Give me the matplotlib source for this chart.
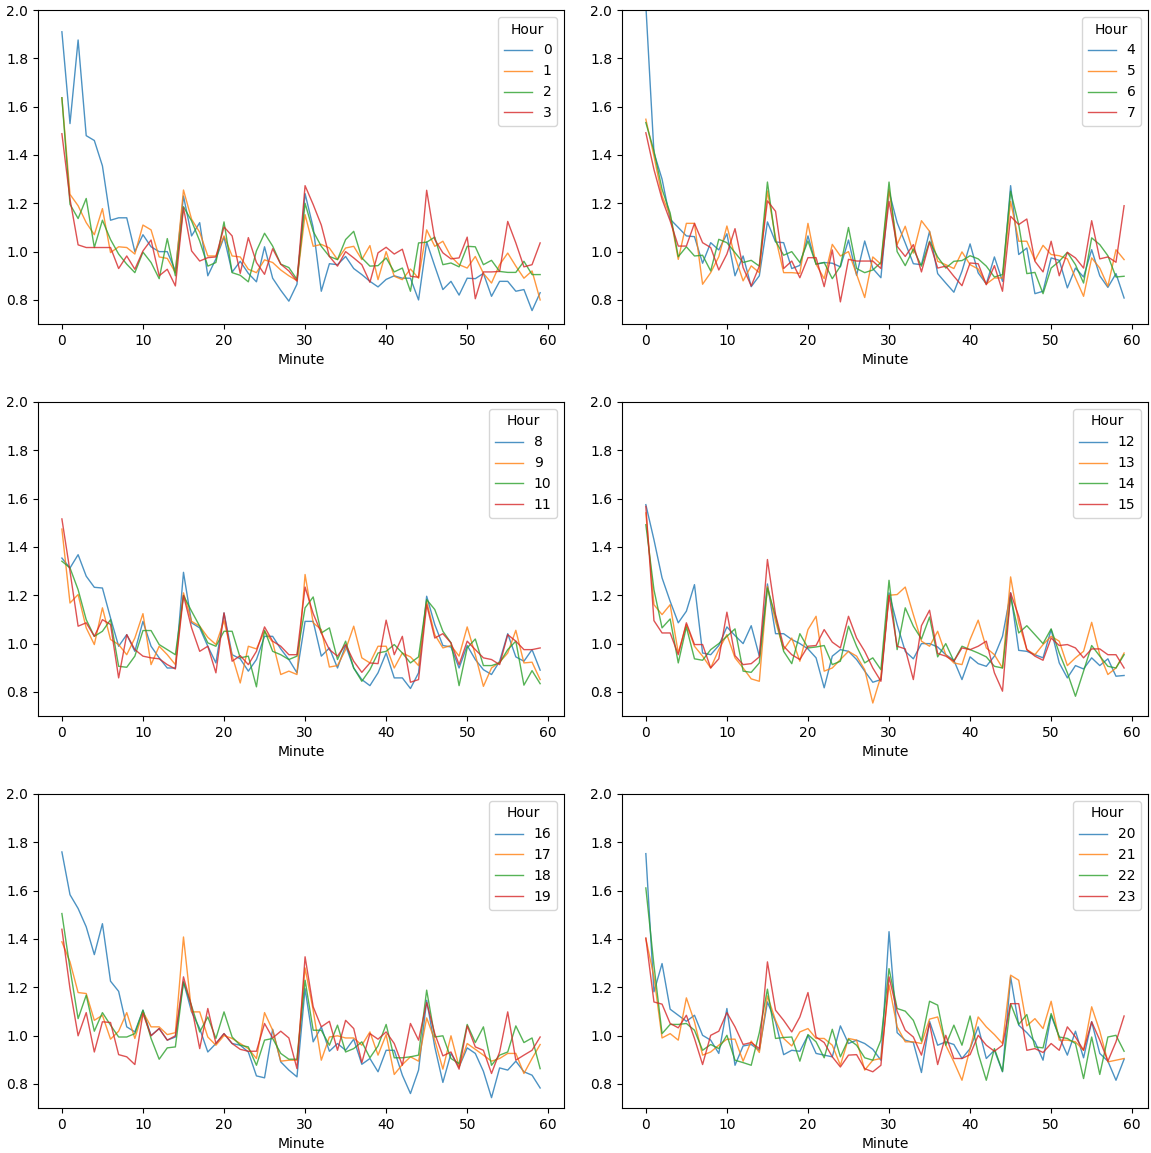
import numpy as np
import matplotlib
matplotlib.use('Agg')
import matplotlib.pyplot as plt

# mean ratio per minute of the hour, one series per hour of the day
minutes = np.arange(60)

hour_0 = [1.91, 1.53, 1.876, 1.48, 1.46, 1.355, 1.13, 1.14, 1.14, 1.0,
          1.07, 1.02, 1.0, 1.0, 0.92, 1.23, 1.065, 1.12, 0.90, 0.97,
          1.06, 0.915, 0.96, 0.91, 0.875, 1.02, 0.89, 0.84, 0.795, 0.865,
          1.24, 1.1, 0.836, 0.95, 0.946, 0.98, 0.93, 0.905, 0.877, 0.854,
          0.885, 0.90, 0.89, 0.89, 0.80, 1.04, 0.94, 0.843, 0.877, 0.82,
          0.89, 0.888, 0.91, 0.815, 0.877, 0.877, 0.836, 0.843, 0.756, 0.83]
hour_1 = [1.637, 1.237, 1.19, 1.12, 1.07, 1.178, 0.996, 1.02, 1.017, 0.99,
          1.11, 1.09, 0.978, 0.972, 0.913, 1.255, 1.134, 1.08, 0.982, 0.982,
          1.065, 0.982, 0.978, 0.927, 0.913, 0.966, 0.955, 0.924, 0.9, 0.88,
          1.153, 1.022, 1.03, 1.015, 0.967, 1.015, 1.022, 0.967, 1.025, 0.884,
          1.0, 0.898, 0.884, 0.928, 0.89, 1.09, 1.022, 1.043, 0.98, 0.946,
          0.932, 0.98, 0.91, 0.87, 0.946, 0.994, 0.94, 0.89, 0.92, 0.80]
hour_2 = [1.637, 1.196, 1.137, 1.22, 1.017, 1.13, 1.05, 0.99, 0.948, 0.913,
          0.998, 0.955, 0.888, 1.054, 0.9, 1.186, 1.127, 1.044, 0.94, 0.955,
          1.123, 0.913, 0.902, 0.875, 1.003, 1.076, 1.023, 0.948, 0.934, 0.885,
          1.2, 1.084, 1.022, 0.98, 0.967, 1.05, 1.084, 0.974, 0.94, 0.942,
          0.974, 0.916, 0.932, 0.836, 1.036, 1.039, 1.06, 0.946, 0.953, 0.937,
          1.022, 1.02, 0.946, 0.964, 0.918, 0.914, 0.914, 0.96, 0.905, 0.905]
hour_3 = [1.488, 1.217, 1.028, 1.017, 1.017, 1.017, 1.017, 0.93, 0.982, 0.927,
          1.003, 1.048, 0.9, 0.927, 0.858, 1.182, 1.003, 0.961, 0.975, 0.978,
          1.102, 1.065, 0.91, 1.058, 0.955, 0.906, 1.012, 0.948, 0.92, 0.878,
          1.273, 1.195, 1.11, 0.98, 0.94, 1.0, 0.974, 0.946, 0.873, 0.995,
          1.018, 0.99, 1.01, 0.898, 0.894, 1.254, 1.05, 0.995, 0.97, 0.974,
          1.06, 0.805, 0.916, 0.916, 0.918, 1.125, 1.036, 0.937, 0.946, 1.036]

hour_4 = [2.02, 1.41, 1.30, 1.134, 1.10, 1.065, 1.062, 0.952, 1.037, 1.007,
          1.074, 0.9, 0.982, 0.855, 0.9, 1.123, 1.04, 1.037, 0.93, 0.943,
          1.065, 0.948, 0.955, 0.952, 0.937, 1.048, 0.902, 1.044, 0.93, 0.892,
          1.25, 1.12, 1.036, 0.95, 0.946, 1.084, 0.909, 0.87, 0.832, 0.919,
          1.032, 0.912, 0.866, 0.978, 0.877, 1.273, 0.988, 1.015, 0.826, 0.836,
          0.974, 0.964, 0.85, 0.932, 0.895, 1.008, 0.9, 0.852, 0.909, 0.808]
hour_5 = [1.548, 1.396, 1.23, 1.15, 0.968, 1.117, 1.117, 0.865, 0.913, 0.979,
          1.106, 0.979, 0.879, 0.941, 0.913, 1.251, 1.058, 0.913, 0.913, 0.91,
          1.117, 0.948, 0.888, 1.03, 0.982, 1.0, 0.906, 0.81, 0.978, 0.948,
          1.257, 1.029, 1.105, 0.994, 1.128, 1.084, 0.96, 0.946, 0.93, 0.999,
          0.946, 0.928, 0.866, 0.891, 0.891, 1.208, 1.043, 1.043, 0.964, 1.026,
          0.988, 0.983, 0.97, 0.891, 0.815, 0.974, 0.932, 0.857, 1.008, 0.967]
hour_6 = [1.534, 1.417, 1.258, 1.16, 0.979, 1.02, 0.982, 0.985, 0.92, 1.051,
          1.037, 0.996, 0.955, 0.964, 0.94, 1.288, 1.044, 0.985, 1.0, 0.955,
          1.044, 0.948, 0.955, 0.888, 0.94, 1.1, 0.93, 0.913, 0.924, 0.955,
          1.288, 1.0, 0.942, 1.011, 0.94, 1.043, 0.978, 0.932, 0.96, 0.963,
          0.983, 0.97, 0.94, 0.895, 0.905, 1.25, 1.112, 0.909, 0.914, 0.826,
          0.932, 0.96, 0.997, 0.946, 0.87, 1.057, 1.029, 0.983, 0.895, 0.898]
hour_7 = [1.492, 1.34, 1.217, 1.127, 1.023, 1.023, 1.117, 1.037, 1.017, 0.924,
          0.99, 1.095, 0.934, 0.858, 0.94, 1.21, 1.167, 0.93, 0.961, 0.892,
          0.975, 0.975, 0.855, 1.007, 0.792, 0.968, 0.961, 0.961, 0.961, 0.93,
          1.208, 1.022, 0.98, 1.029, 0.916, 1.039, 0.932, 0.94, 0.898, 0.859,
          0.953, 0.95, 0.863, 0.942, 0.836, 1.146, 1.112, 1.135, 0.96, 0.916,
          1.043, 0.9, 0.997, 0.974, 0.932, 1.128, 0.97, 0.978, 0.956, 1.19]

hour_8 = [1.354, 1.313, 1.368, 1.279, 1.233, 1.23, 1.106, 0.989, 1.037, 0.968,
          1.092, 0.989, 0.941, 0.899, 0.899, 1.295, 1.086, 1.065, 0.989, 0.92,
          1.127, 0.954, 0.937, 0.886, 0.934, 1.03, 1.03, 0.978, 0.934, 0.879,
          1.092, 1.092, 0.948, 0.982, 0.899, 0.992, 0.899, 0.851, 0.826, 0.879,
          0.961, 0.858, 0.858, 0.814, 0.879, 1.196, 1.079, 0.992, 0.986, 0.899,
          0.992, 0.934, 0.892, 0.872, 0.927, 1.041, 0.945, 0.927, 0.975, 0.89]
hour_9 = [1.474, 1.168, 1.203, 1.065, 0.996, 1.148, 1.017, 0.996, 0.954, 1.023,
          1.124, 0.913, 0.989, 0.954, 0.913, 1.21, 1.092, 1.072, 1.026, 0.996,
          1.095, 0.95, 0.837, 0.989, 0.978, 1.051, 1.006, 0.872, 0.886, 0.872,
          1.286, 1.086, 1.058, 0.903, 0.909, 0.975, 1.072, 0.941, 0.92, 0.989,
          0.989, 0.899, 0.961, 0.945, 0.909, 1.175, 1.037, 0.982, 0.992, 0.948,
          1.069, 0.954, 0.823, 0.899, 0.923, 0.961, 1.055, 0.92, 0.923, 0.851]
hour_10 = [1.341, 1.313, 1.223, 1.099, 1.03, 1.051, 1.099, 0.906, 0.902, 0.948,
           1.054, 1.054, 0.996, 0.975, 0.954, 1.199, 1.134, 1.072, 1.003, 0.989,
           1.051, 1.051, 0.941, 0.948, 0.821, 1.055, 0.968, 0.954, 0.934, 0.948,
           1.148, 1.193, 1.044, 1.065, 0.934, 1.01, 0.899, 0.844, 0.892, 0.961,
           0.968, 0.996, 0.961, 0.92, 0.945, 1.182, 1.141, 1.051, 1.003, 0.826,
           0.982, 1.019, 0.909, 0.909, 0.92, 0.975, 1.01, 0.828, 0.888, 0.834]
hour_11 = [1.516, 1.299, 1.072, 1.086, 1.03, 1.099, 1.079, 0.858, 1.037, 0.975,
           0.948, 0.941, 0.937, 0.913, 0.895, 1.199, 1.065, 0.968, 0.989, 0.879,
           1.127, 0.927, 0.95, 0.913, 0.968, 1.069, 1.01, 0.989, 0.954, 0.954,
           1.234, 1.124, 1.044, 0.975, 0.948, 0.996, 0.927, 0.881, 0.92, 0.917,
           1.097, 0.954, 1.03, 0.84, 0.851, 1.161, 1.023, 1.041, 1.003, 0.913,
           1.01, 0.975, 0.941, 0.934, 0.913, 1.037, 1.01, 0.975, 0.975, 0.982]

hour_12 = [1.575, 1.43, 1.272, 1.175, 1.086, 1.134, 1.244, 0.961, 0.954, 0.992,
           1.069, 1.033, 1.0, 1.074, 0.948, 1.247, 1.041, 1.041, 1.017, 1.0,
           0.978, 0.941, 0.817, 0.948, 0.975, 0.968, 0.934, 0.886, 0.84, 0.851,
           1.21, 1.079, 0.968, 0.937, 1.0, 1.0, 0.986, 0.954, 0.931, 0.851,
           0.945, 0.917, 0.906, 0.948, 1.03, 1.21, 0.972, 0.968, 0.954, 0.941,
           1.058, 0.92, 0.858, 0.909, 0.895, 0.941, 0.909, 0.937, 0.865, 0.868]
hour_13 = [1.541, 1.161, 1.12, 1.161, 0.961, 1.079, 0.989, 0.948, 0.899, 0.975,
           1.037, 0.941, 0.899, 0.854, 0.844, 1.237, 1.092, 0.975, 1.023, 0.927,
           1.058, 1.113, 0.886, 0.899, 0.934, 0.968, 0.948, 0.892, 0.754, 0.865,
           1.2, 1.203, 1.234, 1.12, 1.01, 0.989, 1.051, 0.954, 0.92, 0.913,
           1.017, 1.097, 0.982, 0.954, 0.899, 1.276, 1.086, 0.975, 0.954, 0.996,
           1.03, 1.01, 0.909, 0.941, 0.968, 1.088, 0.954, 0.872, 0.899, 0.961]
hour_14 = [1.492, 1.223, 1.065, 1.102, 0.92, 1.069, 0.937, 0.931, 0.975, 1.0,
           1.03, 1.061, 0.886, 0.881, 0.92, 1.23, 1.113, 0.968, 0.917, 1.041,
           0.982, 0.986, 0.992, 0.913, 0.927, 1.072, 0.989, 0.92, 0.941, 0.892,
           1.262, 0.975, 1.148, 1.072, 1.019, 1.11, 0.945, 1.0, 0.927, 0.989,
           0.975, 0.961, 0.945, 0.906, 0.899, 1.193, 1.044, 1.074, 1.037, 1.0,
           1.061, 0.961, 0.879, 0.782, 0.886, 0.992, 0.948, 0.906, 0.899, 0.954]
hour_15 = [1.568, 1.095, 1.044, 1.044, 0.954, 1.086, 0.996, 0.996, 0.899, 0.937,
           1.13, 0.95, 0.913, 0.917, 0.945, 1.348, 1.12, 0.989, 0.954, 0.934,
           0.989, 0.992, 1.058, 1.006, 0.982, 1.113, 1.023, 0.968, 0.899, 0.844,
           1.199, 0.989, 0.978, 0.851, 1.074, 1.138, 0.959, 0.948, 0.927, 0.982,
           0.975, 0.989, 1.01, 0.879, 0.803, 1.21, 1.113, 0.975, 0.948, 0.931,
           1.023, 0.992, 0.996, 0.982, 0.941, 0.978, 0.978, 0.954, 0.954, 0.899]

hour_16 = [1.76, 1.583, 1.526, 1.45, 1.335, 1.463, 1.225, 1.183, 1.036, 1.015,
           1.105, 1.0, 1.029, 0.981, 0.994, 1.222, 1.098, 1.029, 0.932, 0.967,
           1.008, 0.967, 0.96, 0.932, 0.833, 0.825, 1.026, 0.891, 0.857, 0.829,
           1.194, 0.974, 1.036, 0.935, 0.967, 0.939, 0.985, 0.881, 0.905, 0.85,
           0.939, 0.939, 0.836, 0.76, 0.857, 1.146, 0.953, 0.806, 0.926, 0.87,
           0.949, 0.926, 0.852, 0.743, 0.866, 0.857, 0.894, 0.85, 0.836, 0.783]
hour_17 = [1.388, 1.305, 1.178, 1.174, 1.063, 1.084, 0.985, 1.018, 1.095, 0.988,
           1.098, 1.036, 1.036, 1.004, 1.012, 1.408, 1.098, 1.098, 0.994, 0.96,
           1.0, 0.988, 0.967, 0.946, 0.905, 1.095, 1.022, 0.894, 0.898, 0.898,
           1.28, 1.105, 0.898, 0.994, 0.999, 0.99, 0.99, 0.96, 1.015, 0.919,
           1.004, 0.839, 0.88, 0.912, 0.894, 1.073, 0.981, 0.861, 0.999, 0.87,
           0.967, 0.943, 0.919, 0.894, 0.905, 0.926, 0.926, 0.843, 0.905, 0.963]
hour_18 = [1.505, 1.277, 1.07, 1.167, 1.018, 1.095, 1.043, 0.994, 0.994, 1.008,
           1.105, 0.988, 0.902, 0.949, 0.953, 1.222, 1.123, 1.015, 1.077, 0.988,
           1.098, 0.994, 0.96, 0.953, 0.877, 0.981, 0.988, 0.926, 0.902, 0.902,
           1.229, 1.022, 1.022, 0.96, 1.043, 0.932, 0.946, 0.974, 0.908, 0.957,
           1.046, 0.908, 0.908, 0.912, 0.919, 1.188, 0.994, 0.999, 0.905, 0.884,
           1.046, 0.971, 1.036, 0.877, 0.919, 0.932, 1.04, 0.971, 0.99, 0.863]
hour_19 = [1.44, 1.194, 0.999, 1.095, 0.932, 1.057, 1.054, 0.921, 0.912, 0.88,
           1.091, 0.999, 1.029, 0.981, 0.999, 1.243, 1.119, 0.946, 1.112, 0.967,
           1.008, 0.967, 0.943, 0.935, 0.935, 1.05, 0.99, 1.018, 0.99, 0.863,
           1.326, 1.119, 1.036, 1.059, 0.939, 1.063, 1.029, 0.888, 1.008, 0.985,
           1.015, 0.967, 0.877, 1.05, 0.981, 1.137, 1.008, 0.916, 0.932, 0.861,
           1.04, 0.953, 0.939, 0.843, 0.932, 1.098, 0.898, 0.919, 0.939, 0.994]

hour_20 = [1.753, 1.181, 1.298, 1.109, 1.084, 1.059, 1.084, 1.001, 0.981, 0.926,
           1.112, 0.877, 0.957, 0.963, 0.939, 1.139, 1.057, 0.921, 0.939, 0.935,
           1.001, 0.926, 0.919, 0.912, 1.04, 0.967, 0.981, 0.967, 0.943, 0.898,
           1.43, 1.012, 0.981, 0.971, 0.847, 1.059, 0.96, 0.974, 0.963, 0.905,
           0.946, 1.036, 0.905, 0.939, 0.85, 1.243, 1.043, 1.012, 0.974, 0.898,
           1.084, 0.994, 0.919, 1.018, 0.908, 1.057, 0.926, 0.894, 0.815, 0.902]
hour_21 = [1.401, 1.243, 0.99, 1.008, 0.981, 1.156, 1.057, 0.919, 0.932, 0.96,
           0.985, 0.985, 0.894, 0.977, 0.93, 1.164, 1.063, 0.988, 0.957, 1.015,
           1.029, 0.988, 0.988, 0.96, 0.877, 0.988, 0.981, 0.857, 0.898, 0.905,
           1.21, 1.036, 0.974, 0.974, 0.967, 1.068, 1.077, 0.96, 0.891, 0.815,
           0.946, 1.077, 1.036, 1.004, 0.967, 1.25, 1.229, 1.04, 1.07, 1.029,
           1.142, 0.981, 0.981, 0.974, 0.939, 1.119, 1.018, 0.891, 0.898, 0.905]
hour_22 = [1.611, 1.291, 1.008, 1.046, 1.046, 1.05, 1.022, 0.939, 0.963, 0.946,
           1.001, 0.898, 0.888, 0.877, 1.012, 1.192, 0.988, 0.992, 0.994, 0.894,
           1.004, 0.974, 0.908, 1.026, 0.912, 0.985, 0.96, 0.908, 0.898, 0.981,
           1.277, 1.112, 1.101, 1.063, 0.977, 1.142, 1.126, 0.96, 1.043, 0.96,
           1.081, 0.926, 0.815, 0.946, 0.852, 1.132, 1.046, 1.087, 0.953, 0.949,
           1.091, 0.994, 0.988, 0.967, 0.822, 0.994, 0.839, 0.994, 1.001, 0.935]
hour_23 = [1.404, 1.139, 1.13, 1.05, 1.032, 1.084, 0.988, 0.88, 1.001, 1.018,
           1.095, 1.036, 0.963, 0.971, 0.946, 1.305, 1.105, 1.063, 1.015, 1.077,
           1.178, 0.994, 0.971, 0.912, 0.87, 0.919, 0.921, 0.863, 0.85, 0.877,
           1.243, 1.1, 1.022, 0.994, 0.919, 1.05, 0.88, 1.001, 0.905, 0.905,
           0.921, 1.001, 0.96, 0.935, 0.96, 1.132, 1.132, 0.939, 0.946, 0.93,
           0.967, 0.939, 1.036, 0.994, 0.939, 1.057, 0.981, 0.894, 0.974, 1.081]

hours = [hour_0, hour_1, hour_2, hour_3, hour_4, hour_5, hour_6, hour_7,
         hour_8, hour_9, hour_10, hour_11, hour_12, hour_13, hour_14, hour_15,
         hour_16, hour_17, hour_18, hour_19, hour_20, hour_21, hour_22, hour_23]

fig, axes = plt.subplots(3, 2, figsize=(11.51, 11.53), dpi=100)
fig.subplots_adjust(left=0.033, right=0.9974, top=0.9913, bottom=0.039,
                    wspace=0.11, hspace=0.248)

# four consecutive hours per panel
for i, ax in enumerate(axes.flat):
    for h in range(4 * i, 4 * i + 4):
        ax.plot(minutes, hours[h], label=str(h), linewidth=1, alpha=0.8)
    ax.set_ylim(0.7, 2.0)
    ax.set_yticks(np.arange(0.8, 2.01, 0.2))
    ax.set_xticks(range(0, 61, 10))
    ax.set_xlabel('Minute')
    ax.legend(title='Hour', loc='upper right')

fig.savefig('out.png', dpi=100)
